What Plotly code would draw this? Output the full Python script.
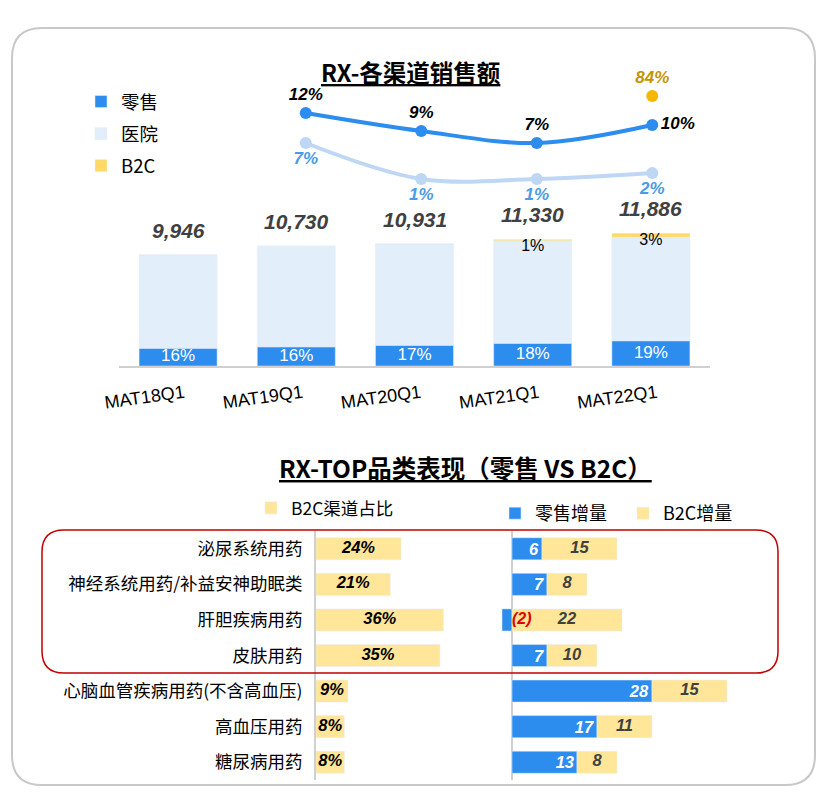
import plotly.graph_objects as go

# page body has an 8px margin, so the figure is drawn 8px in from the window corner
OFF = 8
W, H = 830, 791

# top chart data
periods = ['MAT18Q1', 'MAT19Q1', 'MAT20Q1', 'MAT21Q1', 'MAT22Q1']
total_sales = [9946, 10730, 10931, 11330, 11886]
retail_share = [16, 16, 17, 18, 19]
b2c_share = [0, 0, 0, 1, 3]
growth_periods = ['MAT19Q1', 'MAT20Q1', 'MAT21Q1', 'MAT22Q1']
retail_growth = [12, 9, 7, 10]
hospital_growth = [7, 1, 1, 2]
b2c_growth_period = ['MAT22Q1']
b2c_growth = [84]

# bottom chart data
categories = ['泌尿系统用药', '神经系统用药/补益安神助眠类', '肝胆疾病用药', '皮肤用药',
              '心脑血管疾病用药(不含高血压)', '高血压用药', '糖尿病用药']
b2c_channel_share = [24, 21, 36, 35, 9, 8, 8]
retail_incr = [6, 7, -2, 7, 28, 17, 13]
b2c_incr = [15, 8, 22, 10, 15, 11, 8]

BLUE = '#2C8DEE'
LIGHT = '#E3EEFB'
LINE_LIGHT = '#BDD7F5'
YELLOW = '#FFE699'
GOLD = '#F5B800'
FONT = 'Noto Sans CJK SC, Arial, sans-serif'

retail = [t * s / 100 for t, s in zip(total_sales, retail_share)]
b2c = [t * s / 100 for t, s in zip(total_sales, b2c_share)]
hospital = [t - r - b for t, r, b in zip(total_sales, retail, b2c)]


def px(x):
    return (x - OFF) / W


def py(y):
    return 1 - (y - OFF) / H


fig = go.Figure()

# stacked bars
for vals, name, col, grp in [(retail, '零售', BLUE, 'r'), (hospital, '医院', LIGHT, 'h'),
                             (b2c, 'B2C', '#FFD966', 'b')]:
    fig.add_trace(go.Bar(x=periods, y=vals, name=name, marker_color=col, width=0.66,
                         legend='legend', legendgroup=grp, hoverinfo='skip'))

# retail share labels
fig.add_trace(go.Scatter(x=periods, y=[r / 2 for r in retail], mode='text',
                         text=[f'{s}%' for s in retail_share], cliponaxis=False,
                         textfont=dict(color='white', size=17, family='Arial'),
                         showlegend=False, hoverinfo='skip'))
# b2c share labels
b2c_idx = [i for i, s in enumerate(b2c_share) if s > 0]
fig.add_trace(go.Scatter(x=[periods[i] for i in b2c_idx], y=[total_sales[i] for i in b2c_idx],
                         mode='text', text=[f'{b2c_share[i]}%' for i in b2c_idx],
                         textposition='bottom center', cliponaxis=False,
                         textfont=dict(color='black', size=16, family='Arial'),
                         showlegend=False, hoverinfo='skip'))

# growth lines (own category axis, slightly narrower than the bars like the source slide)
fig.add_trace(go.Scatter(x=growth_periods, y=hospital_growth, xaxis='x4', yaxis='y2',
                         mode='lines+markers+text',
                         line=dict(color=LINE_LIGHT, width=4, shape='spline'),
                         marker=dict(size=12, color=LINE_LIGHT), cliponaxis=False,
                         text=[f'<b><i>{v}%</i></b>' for v in hospital_growth],
                         textposition='bottom center',
                         textfont=dict(color='#4A9BE8', size=17, family='Arial'),
                         showlegend=False, hoverinfo='skip'))
fig.add_trace(go.Scatter(x=growth_periods, y=retail_growth, xaxis='x4', yaxis='y2',
                         mode='lines+markers+text',
                         line=dict(color=BLUE, width=4, shape='spline'),
                         marker=dict(size=12, color=BLUE), cliponaxis=False,
                         text=[f'<b><i>{v}%</i></b>' for v in retail_growth],
                         textposition=['top center', 'top center', 'top center', 'middle right'],
                         textfont=dict(color='black', size=17, family='Arial'),
                         showlegend=False, hoverinfo='skip'))
fig.add_trace(go.Scatter(x=b2c_growth_period, y=b2c_growth, xaxis='x4', yaxis='y3',
                         mode='markers+text',
                         marker=dict(size=12, color=GOLD), cliponaxis=False,
                         text=[f'<b><i>{v}%</i></b>' for v in b2c_growth],
                         textposition='top center',
                         textfont=dict(color='#C49500', size=17, family='Arial'),
                         showlegend=False, hoverinfo='skip'))

# total labels
for p, t in zip(periods, total_sales):
    fig.add_annotation(x=p, y=t, text=f'<b><i>{t:,}</i></b>', showarrow=False,
                       yanchor='bottom', yshift=11,
                       font=dict(size=21, color='#404040', family='Arial'))

# bottom-left: B2C channel share
fig.add_trace(go.Bar(y=categories, x=b2c_channel_share, orientation='h', xaxis='x2', yaxis='y4',
                     name='B2C渠道占比', marker_color=YELLOW, width=0.62, legend='legend2',
                     hoverinfo='skip'))
fig.add_trace(go.Scatter(y=categories, x=[v / 2 for v in b2c_channel_share], xaxis='x2', yaxis='y4',
                         mode='text', text=[f'<b><i>{v}%</i></b>' for v in b2c_channel_share],
                         textfont=dict(color='black', size=16.5, family='Arial'), cliponaxis=False,
                         showlegend=False, hoverinfo='skip'))

# bottom-right: increments
fig.add_trace(go.Bar(y=categories, x=retail_incr, orientation='h', xaxis='x3', yaxis='y5',
                     name='零售增量', marker_color=BLUE, width=0.62, legend='legend3',
                     text=[f'<b><i>{v}</i></b>' if v > 0 else '' for v in retail_incr],
                     textposition='inside', insidetextanchor='end', textangle=0,
                     constraintext='none',
                     textfont=dict(color='white', size=16.5, family='Arial'),
                     hoverinfo='skip'))
fig.add_trace(go.Bar(y=categories, x=b2c_incr, orientation='h', xaxis='x3', yaxis='y5',
                     name='B2C增量', marker_color=YELLOW, width=0.62, legend='legend3',
                     hoverinfo='skip'))
neg = [i for i, v in enumerate(retail_incr) if v < 0]
fig.add_trace(go.Scatter(y=categories, x=[max(r, 0) + b / 2 for r, b in zip(retail_incr, b2c_incr)],
                         xaxis='x3', yaxis='y5', mode='text',
                         text=[f'<b><i>{b}</i></b>' for b in b2c_incr], cliponaxis=False,
                         textfont=dict(color='#404040', size=16.5, family='Arial'),
                         showlegend=False, hoverinfo='skip'))
fig.add_trace(go.Scatter(x=[0 for i in neg], y=[categories[i] for i in neg], xaxis='x3', yaxis='y5',
                         mode='text', text=[f'<b><i>({-retail_incr[i]})</i></b>' for i in neg],
                         textposition='middle right', cliponaxis=False,
                         textfont=dict(color='#E00000', size=16, family='Arial'),
                         showlegend=False, hoverinfo='skip'))

# axes: top bar chart baseline at y=366px, 0.01117 px per unit
top_scale = 0.01117
fig.update_layout(
    xaxis=dict(domain=[px(119), px(710)], showgrid=False, showline=True, linecolor='#D0D0D0',
               linewidth=2, tickfont=dict(size=18, family='Arial', color='black'), tickangle=-8,
               ticks='', ticklabelstandoff=8, ticklabelshift=6, automargin=False),
    xaxis4=dict(domain=[px(248), px(710)], categoryorder='array', categoryarray=growth_periods,
                range=[-0.5, len(growth_periods) - 0.5], visible=False, anchor='y2',
                automargin=False),
    yaxis=dict(domain=[py(366), py(366 - 15000 * top_scale)], range=[0, 15000], visible=False,
               automargin=False),
    yaxis2=dict(domain=[py(200), py(80)], range=[-2.5, 17.5], visible=False, anchor='x4',
                automargin=False),
    yaxis3=dict(domain=[py(110), py(80)], range=[70, 100], visible=False, anchor='x4',
                automargin=False),
    xaxis2=dict(domain=[px(316), px(316 + 50 * 3.54)], range=[0, 50], visible=False, anchor='y4',
                automargin=False),
    yaxis4=dict(domain=[py(780), py(531)], autorange='reversed', anchor='x2', showline=True,
                linecolor='#D0D0D0', linewidth=2, ticks='', automargin=False,
                tickfont=dict(size=17.5, family=FONT, color='black'), ticklabelstandoff=8),
    xaxis3=dict(domain=[px(512 - 3 * 5), px(512 + 50 * 5)], range=[-3, 50], anchor='y5',
                showgrid=False, showticklabels=False, ticks='', zeroline=True, automargin=False,
                zerolinecolor='#D0D0D0', zerolinewidth=2),
    yaxis5=dict(domain=[py(780), py(531)], autorange='reversed', anchor='x3', visible=False,
                matches='y4', automargin=False),
    barmode='relative',
    bargap=0.34,
    plot_bgcolor='white',
    paper_bgcolor='white',
    width=W, height=H,
    margin=dict(l=0, r=0, t=0, b=0),
    font=dict(family=FONT),
    legend=dict(x=px(81), y=py(83), xanchor='left', yanchor='top', orientation='v',
                font=dict(size=18.5, family=FONT, color='black'), itemwidth=30,
                tracegroupgap=5, bgcolor='rgba(0,0,0,0)'),
    legend2=dict(x=px(251), y=py(490), xanchor='left', yanchor='top', orientation='h',
                 font=dict(size=17.5, family=FONT, color='black'), itemwidth=30,
                 bgcolor='rgba(0,0,0,0)'),
    legend3=dict(x=px(495), y=py(495), xanchor='left', yanchor='top', orientation='h',
                 font=dict(size=18, family=FONT, color='black'), itemwidth=30,
                 entrywidth=83, bgcolor='rgba(0,0,0,0)'),
)

# titles
fig.add_annotation(x=px(411), y=py(53), xref='paper', yref='paper', showarrow=False,
                   text='<b><u>RX-各渠道销售额</u></b>', font=dict(size=23.5, color='black', family=FONT))
fig.add_annotation(x=px(465), y=py(467), xref='paper', yref='paper', showarrow=False,
                   text='<b><u>RX-TOP品类表现（零售 VS B2C）</u></b>',
                   font=dict(size=24.5, color='black', family=FONT))


def rounded(x0, y0, x1, y1, r):
    return (f'M {px(x0 + r)} {py(y0)} L {px(x1 - r)} {py(y0)} Q {px(x1)} {py(y0)} {px(x1)} {py(y0 + r)} '
            f'L {px(x1)} {py(y1 - r)} Q {px(x1)} {py(y1)} {px(x1 - r)} {py(y1)} '
            f'L {px(x0 + r)} {py(y1)} Q {px(x0)} {py(y1)} {px(x0)} {py(y1 - r)} '
            f'L {px(x0)} {py(y0 + r)} Q {px(x0)} {py(y0)} {px(x0 + r)} {py(y0)} Z')


fig.add_shape(type='path', xref='paper', yref='paper', path=rounded(12, 28, 815, 785, 30),
              line=dict(color='#C8C8C8', width=2))
fig.add_shape(type='path', xref='paper', yref='paper', path=rounded(42, 530, 778, 673, 22),
              line=dict(color='#C00000', width=1.5))

fig.write_html('out.html')
